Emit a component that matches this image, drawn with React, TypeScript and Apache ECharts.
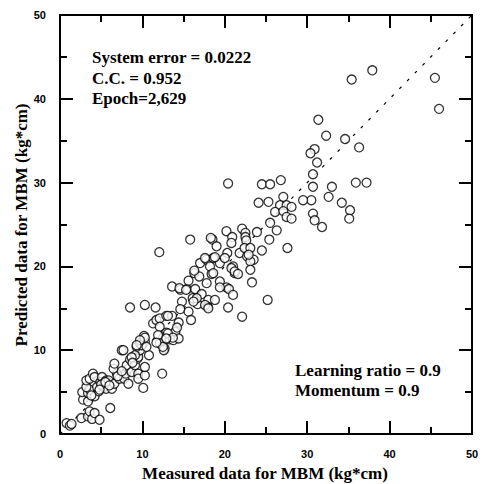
import React, { useEffect, useRef } from "react";
import * as echarts from "echarts";

const xTicks = [0, 10, 20, 30, 40, 50];
const yTicks = [0, 10, 20, 30, 40, 50];

const lowPoints: [number, number][] = [
  [0.8, 1.3], [1.2, 1.0], [1.4, 1.2], [2.6, 1.9], [3.4, 2.1], [3.6, 2.7], [3.9, 1.8], [4.2, 2.5], [4.8, 1.7],
  [6.1, 3.1], [2.8, 4.1], [3.4, 3.9], [2.7, 5.0], [3.4, 4.9], [4.2, 4.5], [4.7, 5.1], [3.6, 5.3], [3.2, 5.6],
  [3.2, 6.4], [3.6, 6.6], [4.0, 7.2], [4.2, 6.8], [4.5, 5.6], [4.9, 6.2], [5.1, 6.8], [5.3, 6.0], [5.3, 5.6],
  [5.6, 5.4], [5.6, 6.4], [5.9, 6.4], [6.3, 5.4], [6.6, 6.0], [6.9, 7.2], [6.5, 7.8], [6.6, 8.4], [7.2, 6.6],
  [7.5, 10.0], [7.8, 6.6], [8.0, 7.2], [8.3, 6.0], [8.3, 7.8], [8.1, 8.2], [8.7, 7.4], [8.5, 8.9], [9.1, 8.2],
  [9.5, 7.2], [9.5, 6.6], [10.3, 7.0], [10.1, 5.5], [10.3, 8.0], [9.4, 9.0], [9.5, 9.2], [9.7, 10.0], [9.3, 10.4],
  [9.7, 10.8], [10.3, 11.0], [10.2, 11.7], [10.8, 9.4], [7.7, 10.0], [9.1, 9.4], [8.7, 9.15], [12.4, 7.2],
  [5.0, 5.9], [5.5, 6.2], [6.0, 5.8], [4.8, 5.3], [3.8, 4.6], [7.0, 6.9], [7.5, 7.5], [8.8, 8.5], [9.9, 10.6],
  [10.3, 11.5], [9.7, 11.2], [9.3, 10.6]
];

const midPoints: [number, number][] = [
  [8.5, 15.1], [10.3, 15.4], [11.6, 15.1], [12.05, 21.7], [11.3, 13.2], [11.7, 13.6], [12.1, 13.8], [12.9, 14.1],
  [13.6, 14.1], [12.1, 12.8], [14.4, 13.3], [14.0, 12.2], [12.9, 12.1], [12.5, 11.5], [13.3, 11.3], [13.75, 11.2],
  [14.4, 11.4], [11.9, 11.8], [12.1, 10.8], [12.7, 10.2], [12.6, 10.0], [10.5, 10.4], [13.6, 17.6], [14.6, 17.2],
  [15.4, 17.3], [15.8, 23.2], [14.8, 15.8], [14.6, 14.9], [15.6, 14.6], [15.9, 13.6], [15.6, 18.3], [16.4, 17.3],
  [17.2, 16.7], [16.1, 16.2], [16.7, 15.5], [18.0, 16.0], [18.8, 16.0], [17.9, 15.2], [17.6, 15.4], [18.0, 15.0],
  [16.3, 19.2], [17.0, 20.4], [17.8, 20.8], [18.6, 21.0], [19.4, 20.4], [20.3, 21.6], [21.0, 20.0], [21.2, 19.2],
  [18.4, 19.1], [17.8, 18.0], [19.4, 18.2], [20.2, 17.5], [20.5, 17.3], [21.0, 16.6], [20.4, 15.1], [22.1, 14.0],
  [16.9, 18.8], [16.3, 19.5], [18.5, 23.2], [18.3, 23.4], [19.0, 22.4], [17.6, 21.0], [18.8, 21.1], [20.0, 21.0],
  [21.8, 21.6], [23.5, 20.8], [22.7, 21.2], [23.1, 20.6], [20.8, 19.8], [21.2, 19.4], [21.6, 19.1], [18.2, 20.0],
  [18.6, 19.2], [23.1, 19.6], [23.3, 18.1], [20.2, 24.2], [20.9, 23.5], [20.8, 22.8], [22.1, 24.5], [22.5, 24.0],
  [22.5, 23.5], [22.6, 23.1], [22.4, 22.2], [23.1, 22.2], [22.9, 21.4], [23.9, 24.1], [24.5, 21.9], [25.2, 16.0],
  [25.4, 23.2], [26.3, 24.3], [25.5, 25.2], [20.4, 29.9], [24.5, 29.8], [25.5, 29.8], [26.8, 30.3], [24.1, 27.6],
  [25.3, 27.7], [27.1, 28.3], [26.7, 27.3], [27.5, 27.3], [28.1, 27.1], [26.1, 26.5], [27.1, 26.6], [27.5, 25.9],
  [28.1, 25.7], [27.6, 22.2], [19.4, 17.5], [16.6, 16.2], [16.2, 15.8], [14.5, 17.4], [15.3, 17.2], [12.5, 10.4],
  [14.2, 12.7], [13.1, 12.0], [13.7, 11.5], [12.9, 11.4], [11.7, 10.9], [13.1, 14.1]
];

const highPoints: [number, number][] = [
  [37.9, 43.4], [35.4, 42.3], [45.5, 42.5], [46.0, 38.8], [31.35, 37.5], [32.3, 35.6], [34.6, 35.2], [36.3, 34.2],
  [30.9, 34.0], [30.4, 33.5], [31.2, 32.4], [30.7, 31.0], [30.7, 29.5], [33.0, 29.5], [35.9, 30.0], [37.2, 30.0],
  [32.6, 28.3], [30.5, 27.9], [29.5, 27.9], [34.2, 27.6], [35.2, 26.7], [35.1, 25.7], [30.7, 26.3], [30.9, 25.5],
  [31.8, 24.7]
];

// reference line y = x, from (0,0) to (50,50)
const diagonal: [number, number, number, number][] = [[0, 0, 50, 50]];

const annotationsTopLeft = ["System error = 0.0222", "C.C. = 0.952", "Epoch=2,629"];
const annotationsBottomRight = ["Learning ratio = 0.9", "Momentum = 0.9"];
const xName = "Measured data for MBM (kg*cm)";
const yName = "Predicted data for MBM (kg*cm)";

const serif = "Liberation Serif";
const sans = "Liberation Sans";

export default function App() {
  const ref = useRef<HTMLDivElement>(null);
  useEffect(() => {
    document.body.style.margin = "0";
    if (!ref.current) return;
    const chart = echarts.init(ref.current, undefined, { renderer: "svg" });
    const makeAxis = (ticks: number[], position: string, showLabel: boolean) => ({
      type: "value",
      min: ticks[0],
      max: ticks[ticks.length - 1],
      interval: 10,
      position,
      axisLine: { show: true, onZero: false, lineStyle: { color: "#000", width: 2 } },
      axisTick: { show: true, inside: true, length: 13, lineStyle: { color: "#000", width: 2 } },
      minorTick: { show: true, splitNumber: 2, length: 7, lineStyle: { color: "#000", width: 2 } },
      splitLine: { show: false },
      axisLabel: showLabel
        ? { show: true, color: "#000", fontFamily: sans, fontWeight: "bold", fontSize: 11, margin: 14 }
        : { show: false },
    });
    const makeScatter = (data: [number, number][]) => ({
      type: "scatter",
      symbol: "circle",
      symbolSize: 9,
      itemStyle: { color: "#fff", borderColor: "#000", borderWidth: 1.3 },
      z: 3,
      data,
    });
    const textStyle = () => ({
      fill: "#000",
      fontFamily: serif,
      fontWeight: "bold",
      fontSize: 17,
    });
    chart.setOption({
      animation: false,
      grid: { left: 60, top: 15, width: 412, height: 419 },
      xAxis: [makeAxis(xTicks, "bottom", true), makeAxis(xTicks, "top", false)],
      yAxis: [makeAxis(yTicks, "left", true), makeAxis(yTicks, "right", false)],
      series: [
        {
          type: "custom",
          data: diagonal,
          encode: { x: [0, 2], y: [1, 3] },
          silent: true,
          z: 1,
          renderItem: (params: any, api: any) => {
            const p0 = api.coord([api.value(0), api.value(1)]);
            const p1 = api.coord([api.value(2), api.value(3)]);
            const dx = p1[0] - p0[0];
            const dy = p1[1] - p0[1];
            const len = Math.sqrt(dx * dx + dy * dy);
            const ux = dx / len;
            const uy = dy / len;
            const dash = 3;
            const gap = 8;
            const children: any[] = [];
            for (let s = 0; s < len; s += dash + gap) {
              const e = Math.min(s + dash, len);
              children.push({
                type: "line",
                shape: { x1: p0[0] + ux * s, y1: p0[1] + uy * s, x2: p0[0] + ux * e, y2: p0[1] + uy * e },
                style: { stroke: "#000", lineWidth: 1.2 },
              });
            }
            return { type: "group", children };
          },
        },
        makeScatter(lowPoints),
        makeScatter(midPoints),
        makeScatter(highPoints),
      ],
      graphic: [
        ...annotationsTopLeft.map((t, i) => ({
          type: "text",
          left: 92,
          top: 49 + i * 20.5,
          style: { text: t, ...textStyle() },
        })),
        ...annotationsBottomRight.map((t, i) => ({
          type: "text",
          left: 295,
          top: 362 + i * 20,
          style: { text: t, ...textStyle() },
        })),
        {
          type: "text",
          x: 265,
          y: 473,
          style: { text: xName, ...textStyle(), align: "center", verticalAlign: "middle" },
        },
        {
          type: "text",
          x: 21,
          y: 225,
          rotation: Math.PI / 2,
          style: { text: yName, ...textStyle(), align: "center", verticalAlign: "middle" },
        },
      ],
    });
    return () => chart.dispose();
  }, []);
  return <div ref={ref} style={{ width: 482, height: 484 }} />;
}
